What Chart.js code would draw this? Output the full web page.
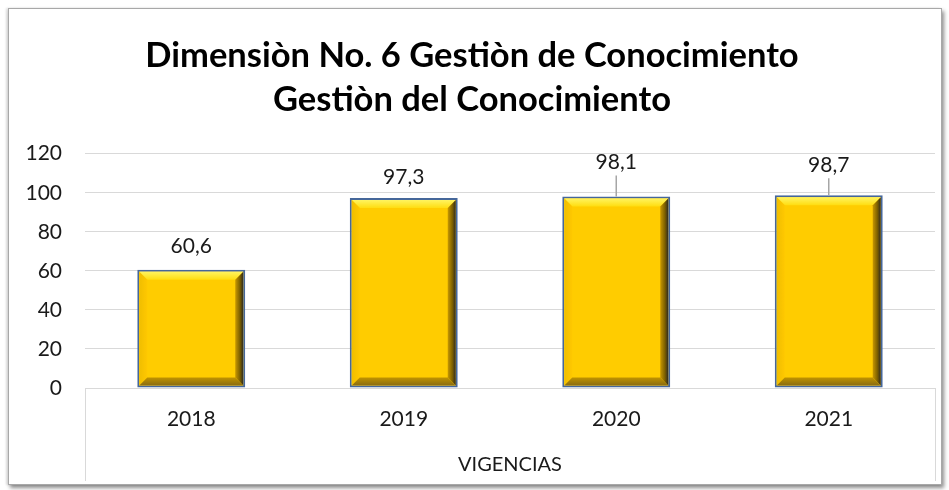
<!DOCTYPE html>
<html><head><meta charset="utf-8">
<script src="https://cdn.jsdelivr.net/npm/chart.js@4.4.0/dist/chart.umd.min.js"></script>
<style>
html,body{margin:0;padding:0;background:#fff;}
#frame{position:absolute;left:8px;top:8px;width:932px;height:475px;border:1px solid #a8a8a8;box-shadow:2px 3px 4px rgba(0,0,0,0.45),-2px 0 2px rgba(0,0,0,0.12);background:#fff;}
canvas{display:block}
</style></head><body>
<div id="frame"><canvas id="c" width="932" height="475"></canvas></div>
<script>
const categories = ['2018', '2019', '2020', '2021'];
const values = [60.6, 97.3, 98.1, 98.7];
const yTicks = [0, 20, 40, 60, 80, 100, 120];
const titleLines = ['Dimensiòn No. 6 Gestiòn de Conocimiento', 'Gestiòn del Conocimiento'];
const axisTitle = 'VIGENCIAS';

const FONT = 'Lato';

function poly(ctx, pts, fill) {
  ctx.beginPath();
  ctx.moveTo(pts[0][0], pts[0][1]);
  for (let i = 1; i < pts.length; i++) ctx.lineTo(pts[i][0], pts[i][1]);
  ctx.closePath();
  ctx.fillStyle = fill;
  ctx.fill();
}

const bevelPlugin = {
  id: 'bevel',
  afterDatasetsDraw(chart) {
    const ctx = chart.ctx;
    chart.getDatasetMeta(0).data.forEach(bar => {
      const p = bar.getProps(['x', 'y', 'base', 'width'], true);
      const bw = 2;
      const l = p.x - p.width / 2 + bw, r = p.x + p.width / 2 - bw;
      const t = p.y + bw, b = p.base - bw;
      const d = 8;
      ctx.save();
      let g = ctx.createLinearGradient(0, t, 0, t + d);
      g.addColorStop(0, '#FFF460'); g.addColorStop(1, '#FFDD10');
      poly(ctx, [[l, t], [r, t], [r - d, t + d], [l + d, t + d]], g);
      g = ctx.createLinearGradient(l, 0, l + d, 0);
      g.addColorStop(0, '#F0BE00'); g.addColorStop(1, '#FFC800');
      poly(ctx, [[l, t], [l + d, t + d], [l + d, b - d], [l, b]], g);
      g = ctx.createLinearGradient(r - d, 0, r, 0);
      g.addColorStop(0, '#C89800'); g.addColorStop(0.6, '#7A5E00'); g.addColorStop(1, '#2E2A20');
      poly(ctx, [[r, t], [r, b], [r - d, b - d], [r - d, t + d]], g);
      g = ctx.createLinearGradient(0, b - d, 0, b);
      g.addColorStop(0, '#C09300'); g.addColorStop(1, '#8A6C10');
      poly(ctx, [[l, b], [r, b], [r - d, b - d], [l + d, b - d]], g);
      ctx.restore();
    });
  }
};

const labelPlugin = {
  id: 'vlabels',
  afterDatasetsDraw(chart, args, opts) {
    const ctx = chart.ctx;
    const meta = chart.getDatasetMeta(0);
    ctx.save();
    ctx.font = '21px ' + FONT;
    ctx.fillStyle = '#1a1a1a';
    ctx.textAlign = 'center';
    ctx.textBaseline = 'middle';
    meta.data.forEach((bar, i) => {
      const v = chart.data.datasets[0].data[i];
      const off = opts.offsets[i];
      const cy = bar.y - off;
      ctx.fillText(v.toFixed(1).replace('.', ','), bar.x, cy);
      if (off > 26) {
        ctx.strokeStyle = '#a6a6a6';
        ctx.lineWidth = 1.5;
        ctx.beginPath();
        ctx.moveTo(bar.x, cy + 13);
        ctx.lineTo(bar.x, bar.y);
        ctx.stroke();
      }
    });
    ctx.restore();
  }
};

const boxPlugin = {
  id: 'catbox',
  afterDraw(chart) {
    const ctx = chart.ctx, a = chart.chartArea;
    ctx.save();
    ctx.strokeStyle = '#d9d9d9';
    ctx.lineWidth = 1;
    [a.left, a.right].forEach(x => {
      ctx.beginPath();
      ctx.moveTo(Math.round(x) + 0.5, a.bottom);
      ctx.lineTo(Math.round(x) + 0.5, chart.height - 3);
      ctx.stroke();
    });
    ctx.restore();
  }
};

new Chart(document.getElementById('c'), {
  type: 'bar',
  data: {
    labels: categories,
    datasets: [{
      data: values,
      backgroundColor: '#FFCC00',
      borderColor: '#46679A',
      borderWidth: 2,
      borderSkipped: false,
      barPercentage: 0.508,
      categoryPercentage: 1
    }]
  },
  options: {
    responsive: false,
    animation: false,
    layout: { padding: { left: 0, right: 6, top: 0, bottom: 0 } },
    plugins: {
      legend: { display: false },
      tooltip: { enabled: false },
      title: {
        display: true,
        text: titleLines,
        color: '#000',
        font: { family: FONT, size: 34.5, weight: 'bold', lineHeight: 1.3 },
        padding: { top: 24, bottom: 31 }
      },
      vlabels: { offsets: [23, 21, 34, 30] }
    },
    scales: {
      y: {
        min: 0, max: 120,
        afterBuildTicks(scale) { scale.ticks = yTicks.map(v => ({ value: v })); },
        afterFit(scale) { scale.width = 76; },
        border: { display: false },
        grid: { color: '#d9d9d9', lineWidth: 1, drawTicks: false },
        ticks: { padding: 23, color: '#1a1a1a', font: { family: FONT, size: 21 } }
      },
      x: {
        afterFit(scale) { scale.height = 96; },
        grid: { display: false, drawTicks: false },
        border: { display: true, color: '#d9d9d9', width: 1 },
        ticks: { padding: 19, color: '#1a1a1a', font: { family: FONT, size: 21 } },
        title: { display: true, text: axisTitle, color: '#1a1a1a', font: { family: FONT, size: 20 }, padding: { top: 0, bottom: 7 } }
      }
    }
  },
  plugins: [bevelPlugin, labelPlugin, boxPlugin]
});
</script>
</body></html>
